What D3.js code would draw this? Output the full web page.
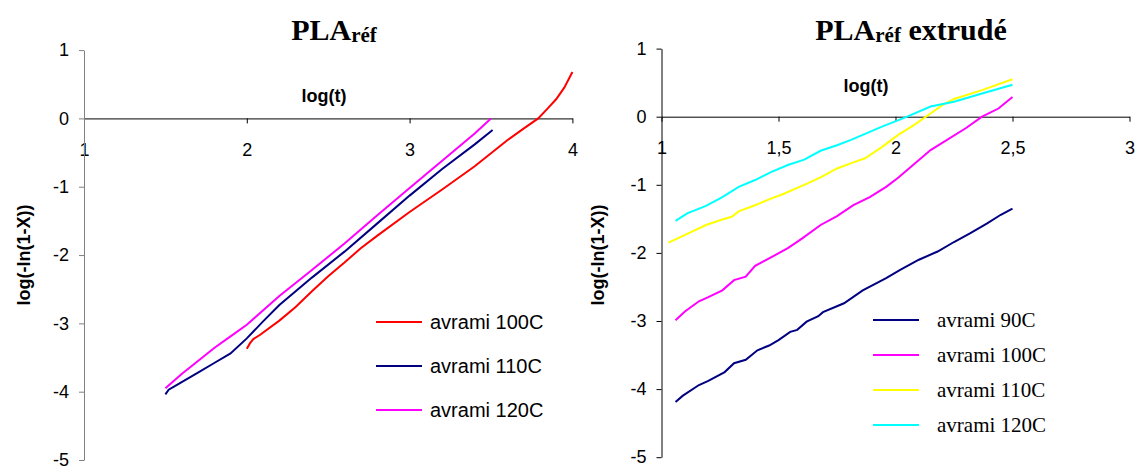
<!DOCTYPE html>
<html>
<head>
<meta charset="utf-8">
<script src="https://cdn.jsdelivr.net/npm/d3@7"></script>
<style>
  body { margin: 0; background: #fff; }
  svg { display: block; }
  text { font-family: "Liberation Sans", Arial, sans-serif; }
</style>
</head>
<body>
<svg id="chart" width="1136" height="468"></svg>
<script>
// ---- PLA ref (left) ----
const left100T = [2.00, 2.02, 2.04, 2.08, 2.20, 2.30, 2.40, 2.50, 2.60, 2.70, 2.80, 3.00, 3.20, 3.40, 3.60, 3.70, 3.79, 3.85, 3.90, 3.95, 4.00]
const left100V = [-3.37, -3.29, -3.23, -3.17, -2.96, -2.76, -2.53, -2.31, -2.11, -1.90, -1.72, -1.37, -1.04, -0.70, -0.32, -0.15, 0.00, 0.15, 0.28, 0.45, 0.68]
const left110T = [1.50, 1.52, 1.55, 1.60, 1.70, 1.80, 1.90, 2.00, 2.10, 2.20, 2.40, 2.60, 2.80, 3.00, 3.20, 3.40, 3.51]
const left110V = [-4.04, -3.97, -3.93, -3.86, -3.72, -3.58, -3.44, -3.22, -2.97, -2.73, -2.33, -1.95, -1.54, -1.13, -0.74, -0.38, -0.17]
const left120T = [1.50, 1.60, 1.70, 1.80, 1.90, 2.00, 2.20, 2.40, 2.60, 2.80, 3.00, 3.20, 3.40, 3.50]
const left120V = [-3.95, -3.74, -3.55, -3.36, -3.19, -3.02, -2.60, -2.22, -1.83, -1.42, -1.02, -0.62, -0.22, 0.00]

// ---- PLA ref extrudé (right) ----
const right90T = [1.06, 1.09, 1.16, 1.20, 1.27, 1.31, 1.36, 1.41, 1.46, 1.50, 1.55, 1.58, 1.62, 1.67, 1.69, 1.78, 1.86, 1.96, 2.02, 2.10, 2.18, 2.25, 2.32, 2.39, 2.45, 2.50]
const right90V = [-4.19, -4.10, -3.94, -3.88, -3.75, -3.62, -3.57, -3.43, -3.36, -3.28, -3.16, -3.13, -3.01, -2.93, -2.87, -2.74, -2.55, -2.37, -2.25, -2.10, -1.98, -1.84, -1.71, -1.57, -1.44, -1.35]
const right100T = [1.06, 1.10, 1.16, 1.20, 1.26, 1.31, 1.36, 1.40, 1.45, 1.54, 1.60, 1.68, 1.75, 1.82, 1.89, 1.96, 2.01, 2.15, 2.30, 2.37, 2.44, 2.50]
const right100V = [-2.99, -2.86, -2.71, -2.65, -2.55, -2.40, -2.35, -2.19, -2.10, -1.93, -1.79, -1.59, -1.46, -1.30, -1.18, -1.03, -0.90, -0.49, -0.17, 0.00, 0.12, 0.29]
const right110T = [1.03, 1.11, 1.19, 1.26, 1.30, 1.33, 1.40, 1.47, 1.51, 1.61, 1.68, 1.75, 1.82, 1.87, 1.94, 2.01, 2.08, 2.13, 2.20, 2.25, 2.37, 2.50]
const right110V = [-1.85, -1.72, -1.59, -1.51, -1.47, -1.39, -1.30, -1.20, -1.15, -1.00, -0.89, -0.76, -0.67, -0.61, -0.45, -0.27, -0.12, 0.00, 0.17, 0.26, 0.39, 0.55]
const right120T = [1.06, 1.11, 1.19, 1.26, 1.33, 1.40, 1.47, 1.54, 1.61, 1.68, 1.75, 1.81, 1.94, 2.05, 2.15, 2.25, 2.37, 2.50]
const right120V = [-1.53, -1.42, -1.31, -1.18, -1.03, -0.93, -0.81, -0.71, -0.63, -0.50, -0.42, -0.34, -0.15, 0.00, 0.15, 0.22, 0.34, 0.47]

const yTicks = [1, 0, -1, -2, -3, -4, -5]
const leftXTicks = [1, 2, 3, 4]
const rightXTicks = [1, 1.5, 2, 2.5, 3]

const leftLabels = ['avrami 100C', 'avrami 110C', 'avrami 120C']
const rightLabels = ['avrami 90C', 'avrami 100C', 'avrami 110C', 'avrami 120C']

const zip = (ts, vs) => ts.map((t, i) => [t, vs[i]])

const svg = d3.select('#chart')

const drawPanel = (p) => {
  const x = d3.scaleLinear().domain(p.xDomain).range(p.xRange)
  const y = d3.scaleLinear().domain([-5, 1]).range(p.yRange)
  const g = svg.append('g')

  // excel style: comma decimals, plain hyphen for negatives
  const fmt = d => String(d).replace('.', ',')

  const xAxis = g.append('g')
    .attr('transform', `translate(0,${y(0)})`)
    .call(d3.axisBottom(x).tickValues(p.xTicks).tickSize(5).tickSizeOuter(0).tickPadding(20).tickFormat(fmt))
  xAxis.selectAll('text').attr('font-size', 18).attr('fill', '#000').attr('font-family', null)
  xAxis.selectAll('line,path').attr('stroke', '#000')

  const yAxis = g.append('g')
    .attr('transform', `translate(${x(p.xDomain[0])},0)`)
    .call(d3.axisLeft(y).tickValues(yTicks).tickSize(5).tickSizeOuter(0).tickPadding(10).tickFormat(fmt))
  yAxis.selectAll('text').attr('font-size', 18).attr('fill', '#000').attr('font-family', null)
  yAxis.selectAll('line,path').attr('stroke', p.yAxisColor)

  const line = d3.line().x(d => x(d[0])).y(d => y(d[1]))
  p.series.forEach(s => {
    g.append('path')
      .datum(s.points)
      .attr('d', line)
      .attr('fill', 'none')
      .attr('stroke', s.color)
      .attr('stroke-width', 2)
  })

  // title
  const title = g.append('text')
    .attr('x', p.titleX).attr('y', 40)
    .attr('text-anchor', 'middle')
    .style('font-family', '"Liberation Serif", "Times New Roman", serif')
    .attr('font-weight', 'bold')
  title.append('tspan').attr('font-size', 30).text('PLA')
  title.append('tspan').attr('font-size', 21).attr('dy', 2).text('réf')
  if (p.titleExtra) title.append('tspan').attr('font-size', 30).attr('dy', -2).text(p.titleExtra)

  g.append('text')
    .attr('x', p.logtX).attr('y', p.logtY)
    .attr('text-anchor', 'middle')
    .attr('font-size', 18).attr('font-weight', 'bold')
    .text('log(t)')

  g.append('text')
    .attr('transform', `translate(${p.yLabelX},255) rotate(-90)`)
    .attr('text-anchor', 'middle')
    .attr('font-size', 18).attr('font-weight', 'bold')
    .text('log(-ln(1-X))')

  // legend
  const lg = g.append('g')
  p.series.forEach((s, i) => {
    const ly = p.legend.y0 + i * p.legend.dy
    lg.append('line')
      .attr('x1', p.legend.x).attr('x2', p.legend.x + 46)
      .attr('y1', ly).attr('y2', ly)
      .attr('stroke', s.color).attr('stroke-width', 2)
    lg.append('text')
      .attr('x', p.legend.x + p.legend.gap).attr('y', ly)
      .attr('dy', '0.35em')
      .attr('font-size', p.legend.size)
      .style('font-family', p.legend.font)
      .text(s.label)
  })
}

drawPanel({
  xDomain: [1, 4], xRange: [84, 572.4], yRange: [460, 50.1],
  xTicks: leftXTicks, yAxisColor: '#808080',
  titleX: 334, logtX: 324, logtY: 102, yLabelX: 30,
  legend: { x: 376, y0: 322, dy: 44, gap: 54, size: 20, font: '"Liberation Sans", Arial, sans-serif' },
  series: [
    { label: leftLabels[0], color: '#ff0000', points: zip(left100T, left100V) },
    { label: leftLabels[1], color: '#000080', points: zip(left110T, left110V) },
    { label: leftLabels[2], color: '#ff00ff', points: zip(left120T, left120V) }
  ]
})

drawPanel({
  xDomain: [1, 3], xRange: [661.5, 1129.5], yRange: [457.2, 48.6],
  xTicks: rightXTicks, yAxisColor: '#000',
  titleX: 911, titleExtra: ' extrudé', logtX: 866, logtY: 92, yLabelX: 604,
  legend: { x: 873, y0: 320, dy: 35, gap: 64, size: 21, font: '"Liberation Serif", "Times New Roman", serif' },
  series: [
    { label: rightLabels[0], color: '#000080', points: zip(right90T, right90V) },
    { label: rightLabels[1], color: '#ff00ff', points: zip(right100T, right100V) },
    { label: rightLabels[2], color: '#ffff00', points: zip(right110T, right110V) },
    { label: rightLabels[3], color: '#00ffff', points: zip(right120T, right120V) }
  ]
})
</script>
</body>
</html>
